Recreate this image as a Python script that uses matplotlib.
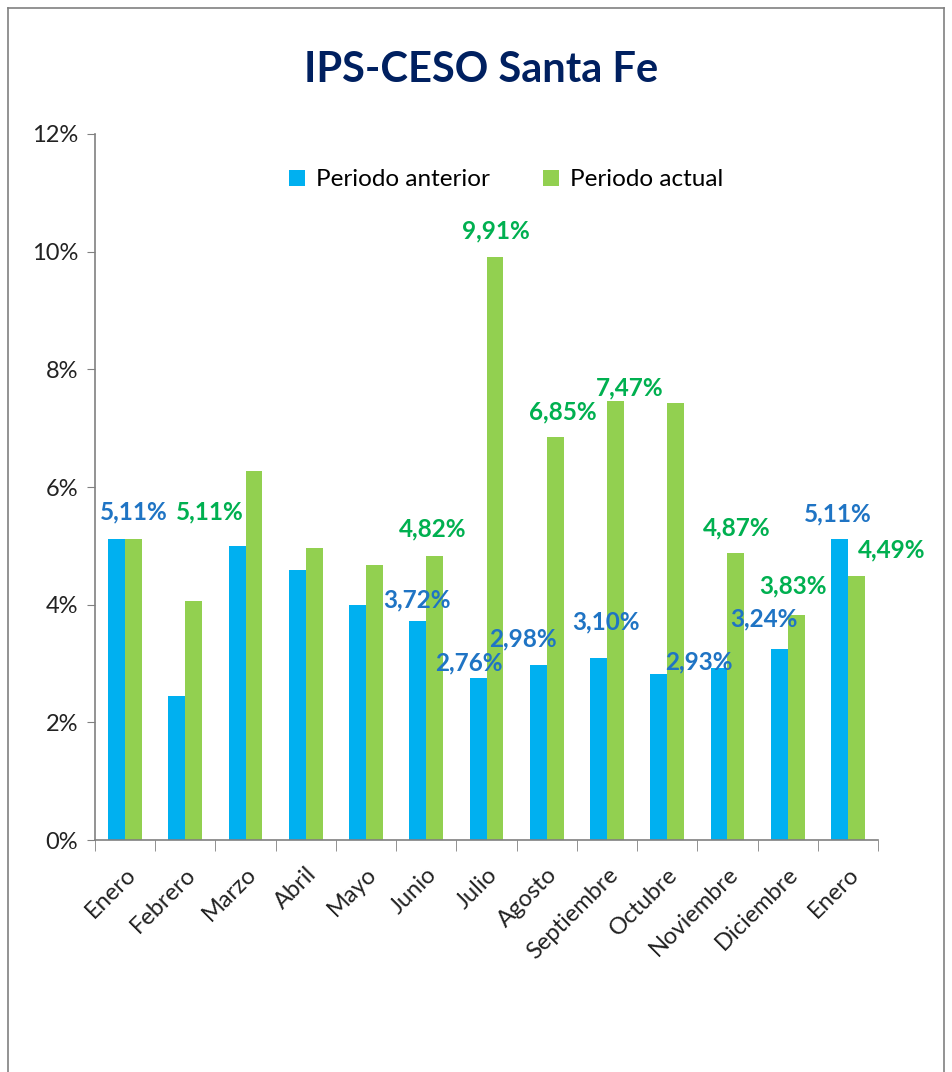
import matplotlib
matplotlib.use("Agg")
import matplotlib.pyplot as plt
from matplotlib.lines import Line2D
from matplotlib.ticker import FuncFormatter, FixedLocator

"""
IPS-CESO Santa Fe: periodo anterior vs periodo actual
"""

meses = ['Enero', 'Febrero', 'Marzo', 'Abril', 'Mayo', 'Junio', 'Julio',
         'Agosto', 'Septiembre', 'Octubre', 'Noviembre', 'Diciembre', 'Enero']
anterior = [5.11, 2.45, 5.00, 4.59, 4.00, 3.72, 2.76, 2.98, 3.10, 2.82, 2.93, 3.24, 5.11]
actual = [5.11, 4.06, 6.27, 4.96, 4.67, 4.82, 9.91, 6.85, 7.47, 7.42, 4.87, 3.83, 4.49]

# etiquetas de datos: (indice, desplazamiento x, desplazamiento y) -- colocadas a mano
etq_anterior = [(0, 0.15, 0.47), (5, -0.15, 0.36), (6, -0.30, 0.25), (7, -0.39, 0.44),
                (8, -0.01, 0.60), (10, -0.48, 0.10), (11, -0.39, 0.52), (12, -0.16, 0.43)]
etq_actual = [(0, 1.41, 0.47), (5, 0.10, 0.47), (6, 0.16, 0.45), (7, 0.27, 0.43),
              (8, 0.37, 0.22), (10, 0.15, 0.44), (11, 0.08, 0.49), (12, 0.72, 0.44)]

c_azul = '#00B0F0'
c_verde = '#92D050'
c_txt_azul = '#1F74C4'
c_txt_verde = '#00B050'

plt.rcParams['font.family'] = ['Lato', 'DejaVu Sans']

fig = plt.figure(figsize=(9.52, 10.72), dpi=100)
ax = fig.add_axes([0.0998, 0.2164, 0.8225, 0.6586])

x = list(range(len(meses)))
w = 0.28
ax.bar([i - w / 2 for i in x], anterior, width=w, color=c_azul, label='Periodo anterior')
ax.bar([i + w / 2 for i in x], actual, width=w, color=c_verde, label='Periodo actual')

for i, dx, dy in etq_anterior:
    ax.text(i + dx, anterior[i] + dy, ('%.2f%%' % anterior[i]).replace('.', ','),
            ha='center', va='center', color=c_txt_azul, fontsize=17.5, fontweight='bold')
for i, dx, dy in etq_actual:
    ax.text(i + dx, actual[i] + dy, ('%.2f%%' % actual[i]).replace('.', ','),
            ha='center', va='center', color=c_txt_verde, fontsize=17.5, fontweight='bold')

ax.set_xlim(-0.5, len(meses) - 0.5)
ax.set_ylim(0, 12)
ax.set_yticks(range(0, 13, 2))
ax.yaxis.set_major_formatter(FuncFormatter(lambda v, p: '%d%%' % v))
ax.tick_params(axis='y', length=6, color='#808080', labelsize=17, labelcolor='#222222', pad=6)

ax.set_xticks(x)
ax.set_xticklabels(meses, rotation=45, ha='right', rotation_mode='anchor',
                   fontsize=17, color='#222222')
ax.tick_params(axis='x', which='major', length=0, pad=17)
ax.xaxis.set_minor_locator(FixedLocator([i - 0.5 for i in range(len(meses) + 1)]))
ax.tick_params(axis='x', which='minor', length=8, color='#808080')

for s in ['top', 'right']:
    ax.spines[s].set_visible(False)
for s in ['left', 'bottom']:
    ax.spines[s].set_color('#808080')
    ax.spines[s].set_linewidth(1.2)

leg = ax.legend(loc='center', bbox_to_anchor=(0.525, 0.935), ncol=2, frameon=False,
                fontsize=17.5, handlelength=0.65, handleheight=0.65, columnspacing=2.2,
                handletextpad=0.45)

fig.text(0.505, 0.935, 'IPS-CESO Santa Fe', ha='center', va='center',
         fontsize=30, fontweight='bold', color='#002060')

# marco exterior
fig.add_artist(Line2D([0.0085, 0.0085], [0, 0.9925], transform=fig.transFigure, color='#808080', lw=1.2))
fig.add_artist(Line2D([0.0085, 0.992], [0.9925, 0.9925], transform=fig.transFigure, color='#808080', lw=1.2))
fig.add_artist(Line2D([0.992, 0.992], [0, 0.9925], transform=fig.transFigure, color='#808080', lw=1.2))

fig.savefig('out.png', dpi=100)
